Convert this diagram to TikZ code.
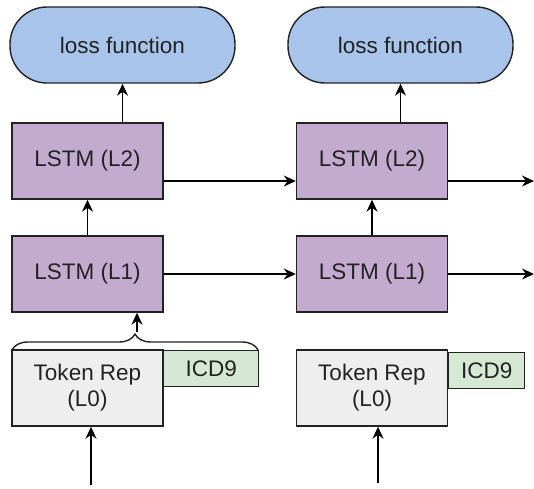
\documentclass[tikz,border=0pt]{standalone}
\usepackage{fontspec}
\setmainfont{Liberation Sans}
\usetikzlibrary{arrows.meta,decorations.pathreplacing,calc}
\definecolor{lossblue}{HTML}{A9C4EB}
\definecolor{lstmpurple}{HTML}{C3ABD0}
\definecolor{tokgray}{HTML}{EEEEEE}
\definecolor{icdgreen}{HTML}{D5E8D4}
\definecolor{edge}{HTML}{222222}
\begin{document}
\begin{tikzpicture}[x=1pt,y=-1pt,
  every node/.style={font=\fontsize{22.5}{26}\selectfont, text=edge, inner sep=0pt, line width=1.4pt, draw=edge},
  lossbox/.style={fill=lossblue, rounded corners=37pt, minimum width=225pt, minimum height=76pt},
  lstmbox/.style={fill=lstmpurple, minimum width=151pt, minimum height=76pt},
  tokbox/.style={fill=tokgray, minimum width=151pt, minimum height=76pt, align=center},
  icdbox/.style={fill=icdgreen, minimum height=36pt, anchor=north west},
  conn/.style={line width=1.5pt, draw=black, -{Stealth[length=12pt,width=11pt]}}
]
\useasboundingbox (0,0) rectangle (534,488);
% column 1
\node[lossbox] (lossa) at (122.5,45) {loss function};
\node[lstmbox] (l2a) at (87.5,161) {LSTM (L2)};
\node[lstmbox] (l1a) at (87.5,274) {LSTM (L1)};
\node[tokbox] (toka) at (87.5,388) {Token Rep\\(L0)};
\node[icdbox, minimum width=95pt] (icda) at (163,350) {ICD9};
% column 2
\node[lossbox] (lossb) at (400.5,45) {loss function};
\node[lstmbox] (l2b) at (372,161) {LSTM (L2)};
\node[lstmbox] (l1b) at (372,274) {LSTM (L1)};
\node[tokbox] (tokb) at (372,388) {Token Rep\\(L0)};
\node[icdbox, minimum width=76pt] (icdb) at (448,352) {ICD9};
% free ends
\coordinate (outa) at (534,181);
\coordinate (outb) at (534,274);
\coordinate (ina) at (91,485);
\coordinate (inb) at (378,483);
\coordinate (bl) at (12,350);
\coordinate (br) at (258,350);
\coordinate (btip) at (137,332);
% brace
\draw[line width=1.4pt, draw=edge, decorate, decoration={brace, amplitude=16pt}] (bl) -- (br);
% connectors
\draw[conn] (btip) -- (btip |- l1a.south);
\draw[conn] (l1a.north) -- (l2a.south);
\draw[conn] (lossa.south |- l2a.north) -- (lossa.south);
\draw[conn] (l1b.north) -- (l2b.south);
\draw[conn] (lossb.south |- l2b.north) -- (lossb.south);
\draw[conn] (l2a.east |- outa) -- (l2b.west |- outa);
\draw[conn] (l1a.east) -- (l1b.west);
\draw[conn] (l2b.east |- outa) -- (outa);
\draw[conn] (l1b.east) -- (outb);
\draw[conn] (ina) -- (ina |- toka.south);
\draw[conn] (inb) -- (inb |- tokb.south);
\end{tikzpicture}
\end{document}
